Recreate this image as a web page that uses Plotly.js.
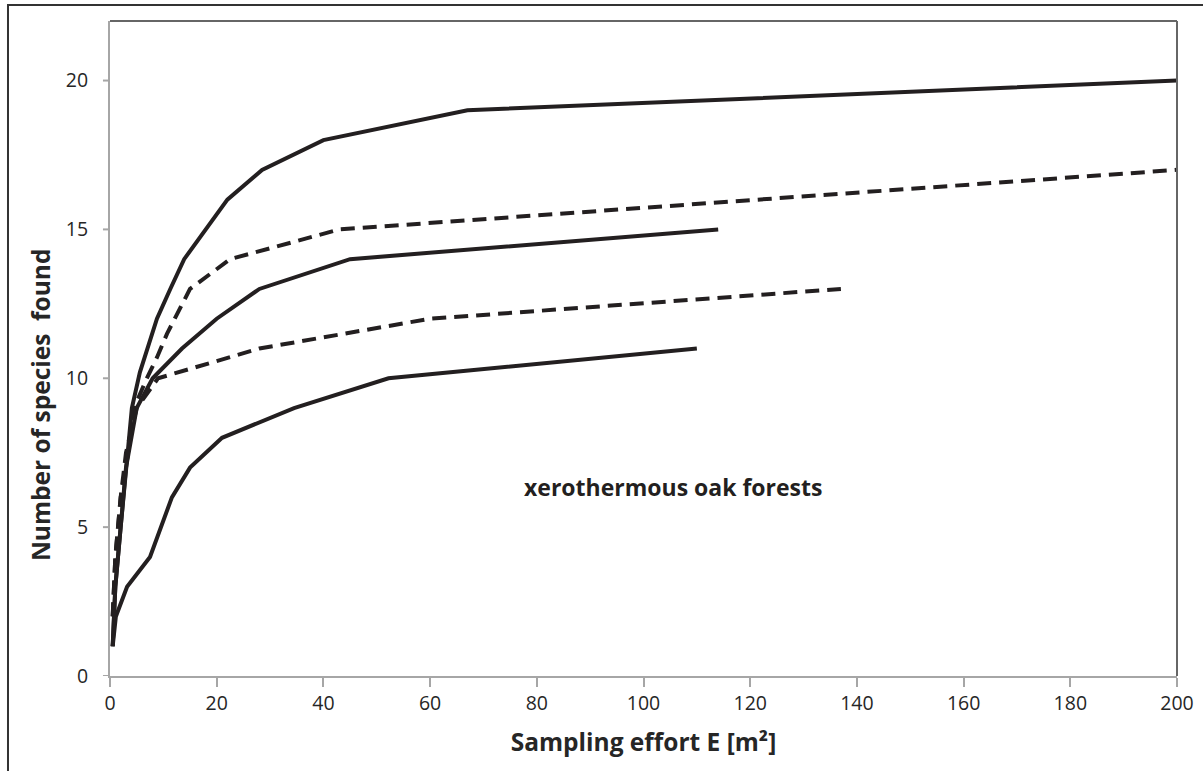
<!DOCTYPE html>
<html>
<head>
<meta charset="utf-8">
<script src="https://cdn.plot.ly/plotly-3.0.1.min.js"></script>
<style>
  html, body { margin: 0; padding: 0; background: #fff; }
  #chart { width: 1203px; height: 771px; }
</style>
</head>
<body>
<div id="chart"></div>
<script>
// Species accumulation curves: sampling effort E [m²] vs number of species found
const curveA_x = [0.5, 1, 2, 3, 4.1, 5.6, 7, 8.8, 11.3, 13.9, 22, 28.5, 40, 67, 200];
const curveA_y = [1, 3, 5, 7, 9, 10.2, 11, 12, 13, 14, 16, 17, 18, 19, 20];

const curveB_x = [0.5, 1, 2, 3, 4.5, 6.9, 8.8, 10.7, 15, 22.5, 43, 200];
const curveB_y = [2, 4, 6, 7, 9, 10, 10.7, 11.5, 13, 14, 15, 17];

const curveC_x = [0.5, 1, 2, 3, 5, 8, 13.5, 20, 28, 45, 114];
const curveC_y = [1, 3, 5, 7, 9, 10, 11, 12, 13, 14, 15];

const curveD_x = [0.5, 1, 2, 3, 5, 7.5, 9, 28, 60, 137];
const curveD_y = [2, 4, 6, 7.5, 9, 9.6, 10, 11, 12, 13];

const curveE_x = [0.5, 1.1, 3.2, 7.5, 11.6, 15, 21, 34.5, 52.2, 110];
const curveE_y = [1, 2, 3, 4, 6, 7, 8, 9, 10, 11];

const xTicks = [0, 20, 40, 60, 80, 100, 120, 140, 160, 180, 200];
const yTicks = [0, 5, 10, 15, 20];

const ink = '#231f20';
const solid = { color: ink, width: 4, dash: 'solid' };
const dashed = { color: ink, width: 4, dash: '14px,8px' };

function curve(x, y, line) {
  return { x: x, y: y, type: 'scatter', mode: 'lines', line: line,
           hoverinfo: 'x+y', showlegend: false };
}

const traces = [
  curve(curveE_x, curveE_y, solid),
  curve(curveD_x, curveD_y, dashed),
  curve(curveC_x, curveC_y, solid),
  curve(curveB_x, curveB_y, dashed),
  curve(curveA_x, curveA_y, solid)
];

const font = 'Open Sans, Liberation Sans, sans-serif';
const tickFont = { size: 19.5, family: font, color: '#262626' };

const layout = {
  width: 1203, height: 771,
  margin: { l: 110, r: 26, t: 21, b: 95 },
  paper_bgcolor: '#ffffff', plot_bgcolor: '#ffffff',
  font: { family: font, color: '#262626' },
  xaxis: {
    range: [0, 200], tickvals: xTicks, ticktext: xTicks.map(String),
    showgrid: false, zeroline: false,
    showline: true, linecolor: '#a6a6a6', linewidth: 2,
    ticks: 'outside', ticklen: 9, tickcolor: '#a6a6a6', tickwidth: 2,
    tickfont: tickFont,
    title: { text: 'Sampling effort E [m²]', standoff: 18,
             font: { size: 24.5, family: font, color: '#262626', weight: 'bold' } }
  },
  yaxis: {
    range: [0, 22], tickvals: yTicks, ticktext: yTicks.map(String),
    showgrid: false, zeroline: false,
    showline: true, linecolor: '#a6a6a6', linewidth: 2,
    ticks: 'outside', ticklen: 16, tickcolor: 'rgba(0,0,0,0)', tickwidth: 2,
    tickfont: tickFont
  },
  shapes: [
    // short y tick marks next to the axis line
    ...yTicks.map(v => ({ type: 'line', xref: 'paper', yref: 'y', x0: -0.0066, x1: 0, y0: v, y1: v,
      line: { color: '#a6a6a6', width: 2 } })),
    // top and right plot-area border
    { type: 'line', xref: 'paper', yref: 'paper', x0: 0, x1: 1, y0: 1, y1: 1,
      line: { color: '#666666', width: 2 } },
    { type: 'line', xref: 'paper', yref: 'paper', x0: 1, x1: 1, y0: 0, y1: 1,
      line: { color: '#666666', width: 2 } },
    // outer chart frame
    { type: 'rect', xref: 'paper', yref: 'paper', x0: -0.0956, x1: 1.2, y0: -0.3, y1: 1.0244,
      line: { color: '#333333', width: 2 } }
  ],
  annotations: [
    { x: 105.5, y: 6.35, xref: 'x', yref: 'y', showarrow: false,
      text: 'xerothermous oak forests',
      font: { size: 23, family: font, color: '#231f20', weight: 'bold' } },
    { x: -0.0656, y: 9.1, xref: 'paper', yref: 'y', showarrow: false, textangle: -90,
      xanchor: 'center', yanchor: 'middle',
      text: 'Number of species  found',
      font: { size: 24.5, family: font, color: '#262626', weight: 'bold' } }
  ]
};

Plotly.newPlot('chart', traces, layout, { displayModeBar: false, staticPlot: true });
</script>
</body>
</html>
